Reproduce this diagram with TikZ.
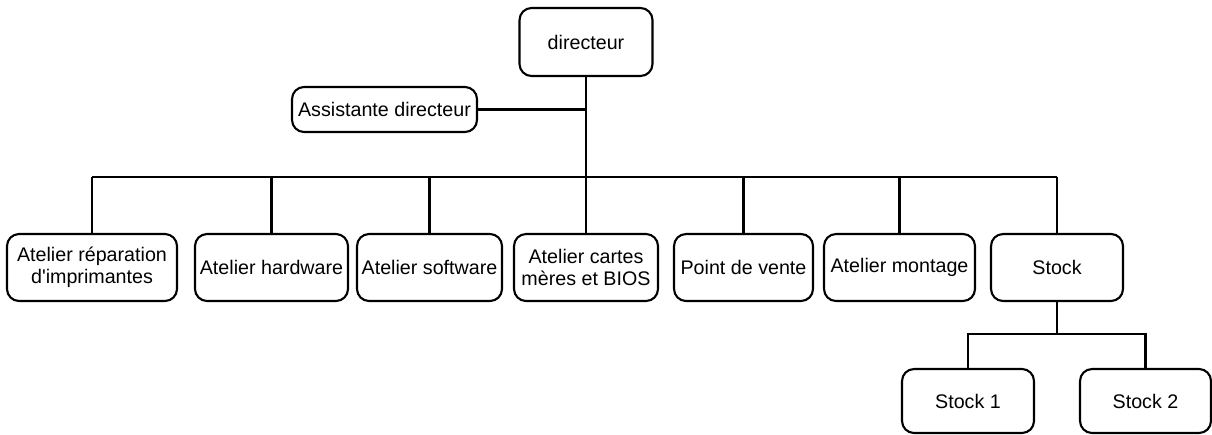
\documentclass[tikz,border=0pt]{standalone}
\usepackage{fontspec}
\newfontfamily\boxfont{Liberation Sans}
\usetikzlibrary{positioning}

\tikzset{
  box/.style={draw,rounded corners=0.24cm,line width=1.2pt,align=center,
    inner sep=1pt,font=\boxfont\fontsize{11.2}{12.6}\selectfont},
  link/.style={line width=1.2pt}
}

\begin{document}
\begin{tikzpicture}[x=0.02cm,y=-0.02cm]
      \useasboundingbox (0,0) rectangle (1212,434);

      % top
      \node (dir) at (586,42) [box,minimum width=2.66cm,minimum height=1.36cm] {directeur};
      \node (ass) at (384.5,109.5) [box,minimum width=3.7cm,minimum height=0.9cm] {Assistante directeur};

      % row
      \node (at1) at (92,267.5)    [box,minimum width=3.4cm,minimum height=1.34cm] {Atelier réparation\\d'imprimantes};
      \node (at2) at (271.5,267.5) [box,minimum width=3.06cm,minimum height=1.34cm] {Atelier hardware};
      \node (at3) at (429.5,267.5) [box,minimum width=2.9cm,minimum height=1.34cm] {Atelier software};
      \node (at4) at (586,267.5)   [box,minimum width=2.88cm,minimum height=1.34cm] {Atelier cartes\\mères et BIOS};
      \node (at5) at (743.5,267.5) [box,minimum width=2.78cm,minimum height=1.34cm] {Point de vente};
      \node (at6) at (899.5,267.5) [box,minimum width=3.02cm,minimum height=1.34cm] {Atelier montage};
      \node (stk) at (1057,267.5)  [box,minimum width=2.64cm,minimum height=1.34cm] {Stock};

      % stock
      \node (stk1) at (968,401)    [box,minimum width=2.64cm,minimum height=1.28cm] {Stock 1};
      \node (stk2) at (1145.5,401) [box,minimum width=2.62cm,minimum height=1.28cm] {Stock 2};

      % links
      \path (586,177) coordinate (bar);
      \path (1057,334) coordinate (sbar);
      \draw[link] (dir) -- (bar);
      \draw[link] (ass.east) -- (ass.east -| dir);
      \draw[link] (at1.north |- bar) -- (stk.north |- bar);
      \foreach \n in {at1,at2,at3,at4,at5,at6,stk} {
        \draw[link] (\n.north) -- (\n.north |- bar);
      }
      \draw[link] (stk) -- (sbar);
      \draw[link] (stk1.north) |- (sbar) -| (stk2.north);

\end{tikzpicture}
\end{document}
